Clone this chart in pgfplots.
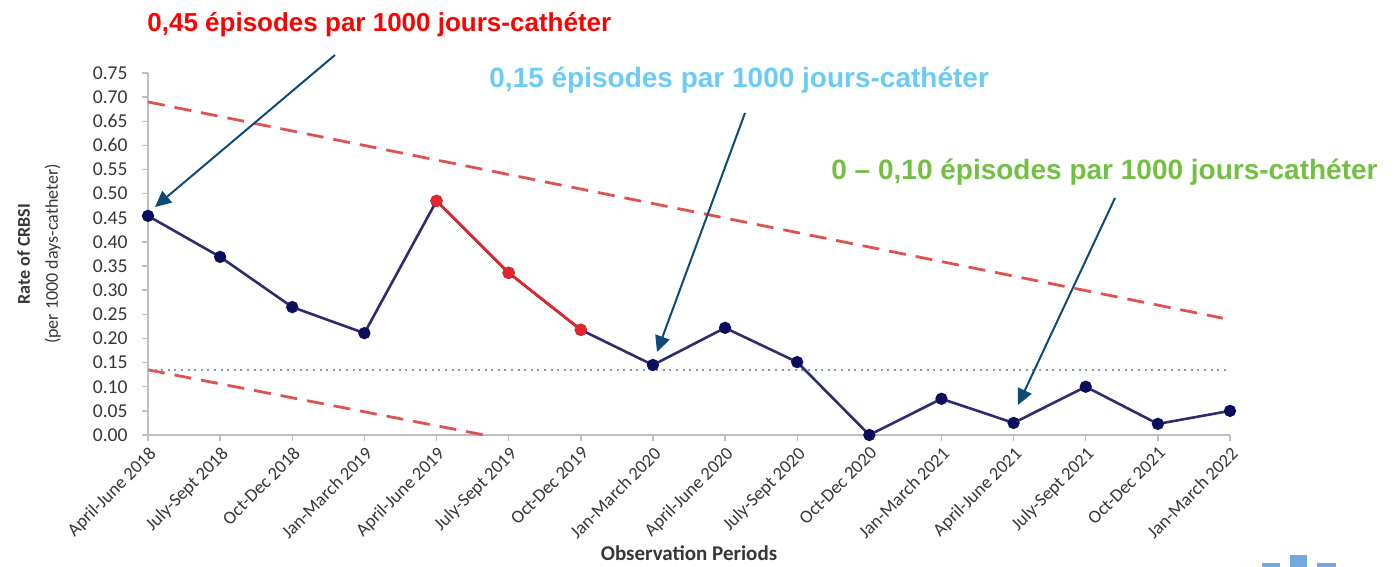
\documentclass[border=0pt]{standalone}
\usepackage{fontspec}
\setmainfont{Carlito}
\newfontfamily\arial{Liberation Sans}
\usepackage{pgfplots}
\pgfplotsset{compat=1.18}
\usetikzlibrary{arrows.meta}
\definecolor{axisgray}{HTML}{BFBFBF}
\definecolor{ticktext}{HTML}{363636}
\definecolor{navyline}{HTML}{2F2C6E}
\definecolor{navymark}{HTML}{0D0D5E}
\definecolor{redline}{HTML}{E3262B}
\definecolor{limred}{HTML}{E05252}
\definecolor{centerdot}{HTML}{8498B2}
\definecolor{arrowblue}{HTML}{0E4A78}
\definecolor{txtred}{HTML}{FF0000}
\definecolor{txtblue}{HTML}{6CCBF4}
\definecolor{txtgreen}{HTML}{72BF44}
\definecolor{logoblue}{HTML}{74A9DD}
\begin{document}
\begin{tikzpicture}
\path[use as bounding box] (-74pt,-66pt) rectangle (623pt,217.5pt);
\begin{axis}[
  at={(0,0)}, anchor=south west,
  scale only axis, width=541pt, height=181pt,
  xmin=0, xmax=15, ymin=0, ymax=0.75,
  axis x line=bottom, axis y line=left,
  axis line style={draw=axisgray, line width=0.7pt, -},
  xtick={0,...,15},
  xticklabels={April-June 2018,July-Sept 2018,Oct-Dec 2018,Jan-March 2019,April-June 2019,July-Sept 2019,Oct-Dec 2019,Jan-March 2020,April-June 2020,July-Sept 2020,Oct-Dec 2020,Jan-March 2021,April-June 2021,July-Sept 2021,Oct-Dec 2021,Jan-March 2022},
  ytick={0,0.05,0.1,0.15,0.2,0.25,0.3,0.35,0.4,0.45,0.5,0.55,0.6,0.65,0.7,0.75},
  yticklabel style={/pgf/number format/fixed, /pgf/number format/fixed zerofill, /pgf/number format/precision=2, inner sep=0pt, xshift=-7pt, font=\fontsize{9.8}{11}\selectfont},
  /pgf/number format/assume math mode=true,
  tick style={draw=axisgray, line width=0.7pt},
  tick align=outside, major tick length=3pt,
  ticklabel style={text=ticktext},
  xticklabel style={rotate=45, anchor=north east, inner sep=1.5pt, font=\fontsize{9.2}{11}\selectfont},
  xlabel={\textbf{Observation Periods}},
  xlabel style={font=\fontsize{10.5}{12}\selectfont, text=ticktext, at={(axis description cs:0.5,0)}, anchor=center, yshift=-59pt},
  clip=false,
]
\addplot[limred, line width=1.4pt, dash pattern=on 8.5pt off 5pt] coordinates {(0,0.690) (14.9,0.242)};
\addplot[limred, line width=1.4pt, dash pattern=on 8.5pt off 5pt] coordinates {(0,0.135) (4.66,0)};
\addplot[centerdot, line width=1.1pt, dash pattern=on 1pt off 2.3pt] coordinates {(0,0.135) (15,0.135)};
\addplot[navyline, line width=1.3pt, mark=*, mark size=2.4pt, mark options={fill=navymark, draw=navymark}] coordinates {
(0,0.454) (1,0.369) (2,0.265) (3,0.211) (4,0.485) (5,0.336) (6,0.218) (7,0.145)
(8,0.222) (9,0.151) (10,0.0) (11,0.075) (12,0.025) (13,0.100) (14,0.023) (15,0.050)};
\addplot[redline, line width=1.3pt, mark=*, mark size=2.4pt, mark options={fill=redline, draw=redline}] coordinates {
(4,0.485) (5,0.336) (6,0.218)};
\end{axis}
\node[rotate=90, align=center, font=\fontsize{9}{14}\selectfont, text=ticktext] at (-54.5pt,90.5pt) {\textbf{Rate of CRBSI}\\(per 1000 days-catheter)};
\begin{scope}[arrowblue, line width=1pt, -{Triangle[length=8pt,width=7.5pt]}]
\draw (93.5pt,190pt) -- (3.5pt,114pt);
\draw (298.5pt,161pt) -- (254.5pt,41.5pt);
\draw (483.5pt,118.5pt) -- (435pt,15pt);
\end{scope}
\node[anchor=base west, inner sep=0pt, text=txtred, font=\arial\bfseries\fontsize{13}{15}\selectfont] at (-0.5pt,201.5pt) {0,45 épisodes par 1000 jours-cathéter};
\node[anchor=base west, inner sep=0pt, text=txtblue, font=\arial\bfseries\fontsize{14}{16}\selectfont] at (170.5pt,173.5pt) {0,15 épisodes par 1000 jours-cathéter};
\node[anchor=base west, inner sep=0pt, text=txtgreen, font=\arial\bfseries\fontsize{14}{16}\selectfont] at (341.5pt,127.5pt) {0 – 0,10 épisodes par 1000 jours-cathéter};
\fill[logoblue] (557pt,-64pt) rectangle (566pt,-66pt);
\fill[logoblue] (571pt,-60pt) rectangle (579.5pt,-66pt);
\fill[logoblue] (584.5pt,-64pt) rectangle (594pt,-66pt);
\end{tikzpicture}
\end{document}
